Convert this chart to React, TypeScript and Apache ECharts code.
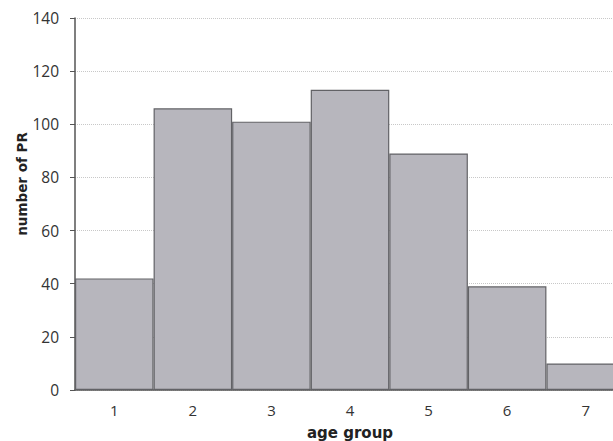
import React, { useEffect, useRef } from "react";
import * as echarts from "echarts";

const categories = ["1", "2", "3", "4", "5", "6", "7"];
const counts = [42, 106, 101, 113, 89, 39, 10];
const yTicks = { min: 0, max: 140, interval: 20 };
const xName = "age group";
const yName = "number of PR";

export default function App() {
  const ref = useRef<HTMLDivElement>(null);
  useEffect(() => {
    if (!ref.current) return;
    const chart = echarts.init(ref.current, null, { renderer: "svg" });
    chart.setOption({
      animation: false,
      backgroundColor: "#ffffff",
      grid: { left: 75, top: 18, bottom: 51, width: 550, outerBoundsMode: "none", containLabel: false },
      xAxis: {
        type: "category",
        data: categories,
        name: xName,
        nameLocation: "middle",
        nameGap: 35,
        nameTextStyle: { fontFamily: "DejaVu Sans", fontWeight: "bold", fontSize: 15, color: "#222" },
        axisLine: { lineStyle: { color: "#555", width: 1.5 } },
        axisTick: { show: false },
        axisLabel: { margin: 12, fontFamily: "Open Sans", fontSize: 15, color: "#333" },
      },
      yAxis: {
        type: "value",
        min: yTicks.min,
        max: yTicks.max,
        interval: yTicks.interval,
        name: yName,
        nameLocation: "middle",
        nameGap: 46,
        nameMoveOverlap: false,
        nameTextStyle: { fontFamily: "DejaVu Sans", fontWeight: "bold", fontSize: 13.5, color: "#222", padding: [0, 0, 0, 40] },
        axisLine: { show: true, lineStyle: { color: "#555", width: 1.5 } },
        axisTick: { show: true, length: 5, lineStyle: { color: "#555" } },
        axisLabel: { margin: 16, fontFamily: "Open Sans", fontSize: 15.5, color: "#333" },
        splitLine: { lineStyle: { color: "#c8c8c8", type: "dotted", width: 1 } },
      },
      series: [
        {
          type: "bar",
          data: counts,
          barCategoryGap: "0%",
          itemStyle: { color: "#b7b6bd", borderColor: "#626266", borderWidth: 1.2 },
        },
      ],
    });
    return () => chart.dispose();
  }, []);
  return (
    <div
      ref={ref}
      style={{ position: "fixed", left: 0, top: 0, width: 613, height: 441 }}
    />
  );
}
